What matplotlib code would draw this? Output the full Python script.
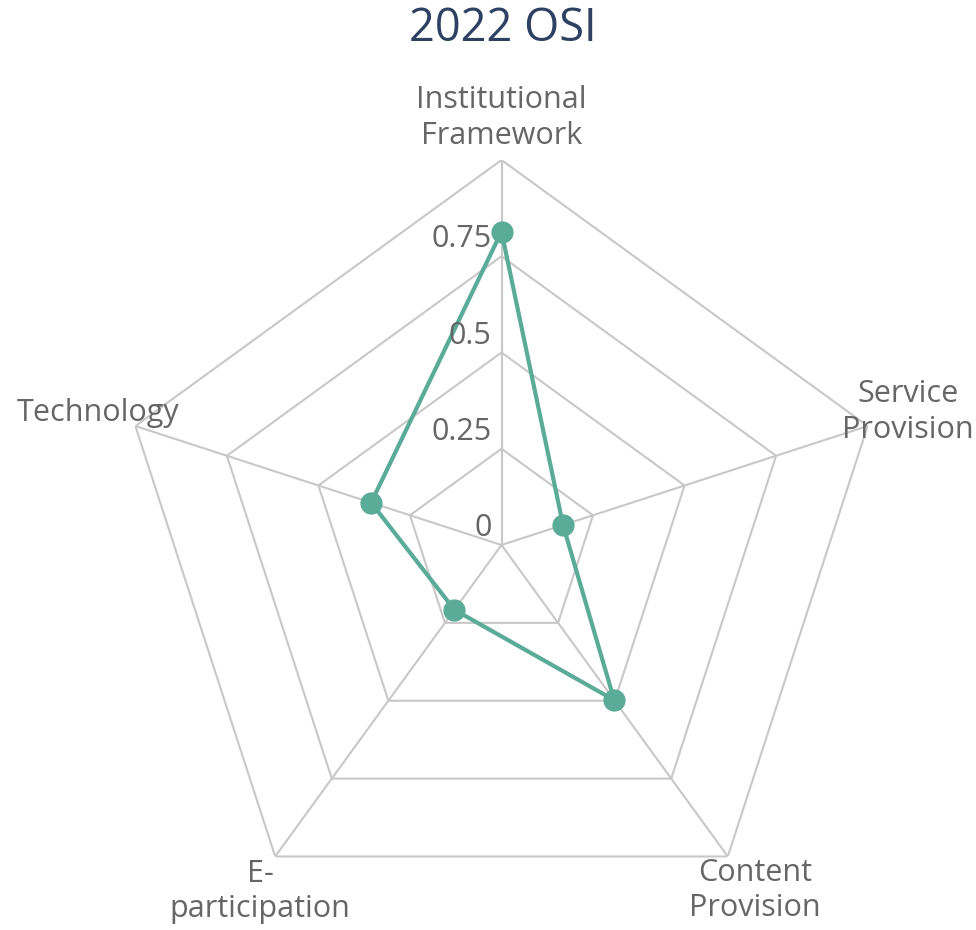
import numpy as np
import matplotlib
matplotlib.use("Agg")
import matplotlib.pyplot as plt

categories = ["Institutional\nFramework", "Service\nProvision", "Content\nProvision",
              "E-\nparticipation", "Technology"]
values = [0.814, 0.168, 0.498, 0.208, 0.356]
ring_levels = [0.25, 0.5, 0.75, 1.0]
tick_levels = [0, 0.25, 0.5, 0.75]
tick_labels = ["0", "0.25", "0.5", "0.75"]
title = "2022 OSI"

FONT = "Open Sans"
LINE_COLOR = "#5aab97"
GRID_COLOR = "#c8c8c8"
TEXT_COLOR = "#666666"
TITLE_COLOR = "#2e4163"

W, H = 976, 930
fig = plt.figure(figsize=(W / 100, H / 100), dpi=100)
cx, cy, R = 501.5, 545.0, 385.0
ax = fig.add_axes([(cx - R) / W, (H - cy - R) / H, 2 * R / W, 2 * R / H], projection="polar")
ax.set_theta_offset(np.pi / 2)
ax.set_theta_direction(-1)
ax.set_ylim(0, 1)
ax.grid(False)
ax.spines["polar"].set_visible(False)
ax.set_xticks([])
ax.set_yticks([])
ax.patch.set_alpha(0)

n = len(categories)
angles = np.arange(n) * 2 * np.pi / n
closed = np.concatenate([angles, angles[:1]])

for lvl in ring_levels:
    ax.plot(closed, [lvl] * (n + 1), color=GRID_COLOR, lw=1.5, zorder=1)
for a in angles:
    ax.plot([a, a], [0, 1], color=GRID_COLOR, lw=1.5, zorder=1)

vals = values + values[:1]
ax.plot(closed, vals, color=LINE_COLOR, lw=3, zorder=3, solid_joinstyle="round")
ax.plot(angles, values, "o", color=LINE_COLOR, ms=15, zorder=4)

FS = 22
offsets = [(0, 42), (40, 14), (27, -34), (-15, -35), (-37, 13)]  # pixels
for a, lab, off in zip(angles, categories, offsets):
    ax.annotate(lab, xy=(a, 1.0), xytext=(off[0] * 0.72, off[1] * 0.72), textcoords="offset points",
                ha="center", va="center", fontsize=FS, color=TEXT_COLOR, family=FONT,
                linespacing=1.25, annotation_clip=False)

for lvl, tl in zip(tick_levels, tick_labels):
    ax.annotate(tl, xy=(0, lvl), xytext=(-10 * 0.72, 17 * 0.72), textcoords="offset points",
                ha="right", va="center", fontsize=FS, color=TEXT_COLOR, family=FONT,
                annotation_clip=False, zorder=5)

fig.text(503 / W, 1 - 29 / H, title, ha="center", va="center", fontsize=32.5,
         color=TITLE_COLOR, family=FONT)

fig.savefig("out.png", dpi=100)
